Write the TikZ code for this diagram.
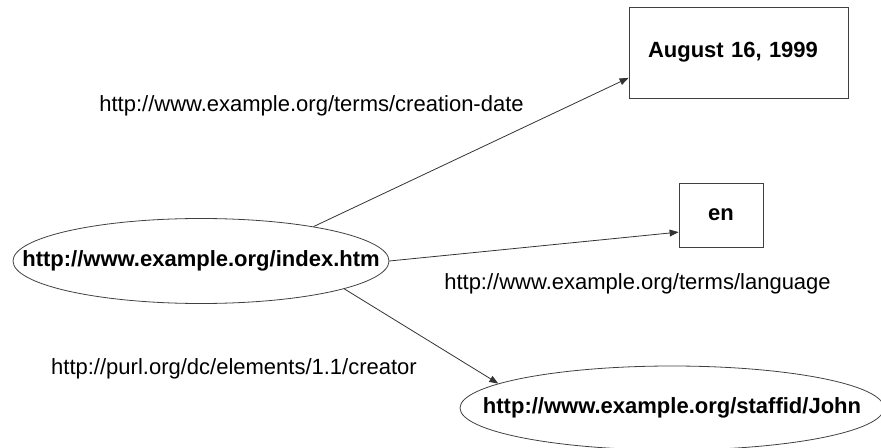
\documentclass[tikz,border=0pt]{standalone}
\usepackage{fontspec}
\setmainfont{Liberation Sans}
\usepackage{tikz}
\usetikzlibrary{shapes,arrows.meta,positioning}

\newcommand{\uriFont}{\fontsize{11}{13.2}\selectfont\bfseries}
\newcommand{\propFont}{\fontsize{11}{13.2}\selectfont}

\tikzset{
    % negative xsep keeps the ellipse at its minimum width
    resource/.style={ellipse, draw=black!75, inner xsep=-30pt, inner ysep=0pt, font=\uriFont},
    literal/.style={rectangle, draw=black!75, inner sep=0pt, font=\uriFont},
    prop/.style={inner sep=0pt, font=\propFont},
    link/.style={draw=black!80, -{Triangle[length=4.5pt,width=3.4pt]}}
}

\begin{document}
\begin{tikzpicture}[x=0.5pt,y=-0.5pt]
    \useasboundingbox (0,0) rectangle (881,448);

    % subject and objects
    \node[resource, minimum width=188pt, minimum height=42.5pt] (index) at (201,261) {http://www.example.org/index.htm};
    \node[literal, text width=90.5pt, align=left, inner xsep=9.5pt, minimum height=45.5pt] (date) at (738.5,52.5) {August 16, 1999};
    \node[literal, minimum width=42pt, minimum height=32pt] (lang) at (721,215) {en};
    \node[resource, minimum width=212pt, minimum height=42pt] (john) at (672,408) {http://www.example.org/staffid/John};

    % predicates
    \draw[link] (index.17.8) -- (date.193);
    \draw[link] (index.-0.6) -- (lang.202);
    \draw[link] (index.-11.2) -- (john.172.7);

    \node[prop] (datelbl) at (311.5,106) {http://www.example.org/terms/creation-date};
    \node[prop] (langlbl) at (637.5,284) {http://www.example.org/terms/language};
    \node[prop] (creatorlbl) at (234,369) {http://purl.org/dc/elements/1.1/creator};
\end{tikzpicture}
\end{document}
